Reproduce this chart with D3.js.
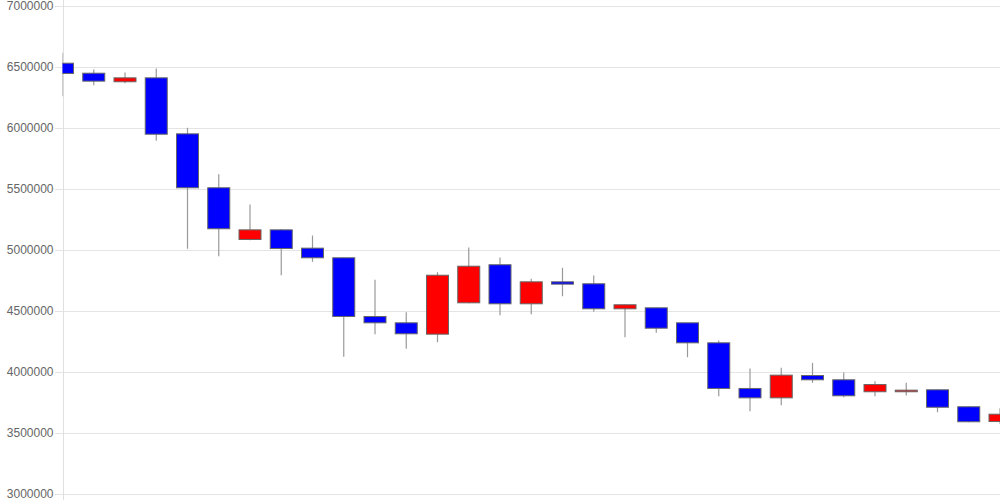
<!DOCTYPE html>
<html>
<head>
<meta charset="utf-8">
<script src="https://cdn.jsdelivr.net/npm/d3@7"></script>
<style>
  html, body { margin: 0; padding: 0; background: #fff; }
  svg { display: block; }
</style>
</head>
<body>
<svg id="chart" width="1000" height="500"></svg>
<script>
const categories = ["1","2","3","4","5","6","7","8","9","10","11","12","13","14","15","16","17","18","19","20","21","22","23","24","25","26","27","28","29","30","31"];
const openValues  = [6527000,6445000,6375000,6407000,5948000,5506000,5082000,5161000,5011000,4932000,4451000,4399000,4306000,4563000,4875000,4555000,4735000,4719000,4514000,4522000,4399000,4235000,3861000,3784000,3967000,3932000,3834000,3834000,3850000,3711000,3590000];
const highValues  = [6612000,6475000,6451000,6484000,5998000,5617000,5369000,5165000,5115000,4935000,4752000,4486000,4814000,5016000,4934000,4760000,4850000,4787000,4550000,4525000,4400000,4254000,4025000,4030000,4071000,3992000,3921000,3907000,3852000,3713000,3699000];
const lowValues   = [6257000,6347000,6363000,5891000,5006000,4945000,5076000,4789000,4899000,4120000,4306000,4186000,4240000,4560000,4461000,4470000,4617000,4489000,4281000,4317000,4117000,3798000,3675000,3724000,3907000,3789000,3798000,3803000,3666000,3585000,3571000];
const closeValues = [6443000,6380000,6407000,5945000,5506000,5170000,5161000,5008000,4932000,4451000,4399000,4309000,4789000,4863000,4555000,4735000,4716000,4514000,4547000,4355000,4235000,3861000,3784000,3970000,3932000,3801000,3893000,3847000,3707000,3588000,3650000];
const yTicks = [3000000,3500000,4000000,4500000,5000000,5500000,6000000,6500000,7000000];

(function () {
const W = 1000, H = 500;
const pLeft = 63.5, pRight = 1000, pTop = 5.5, pBottom = 493.5;
const svg = d3.select("#chart");

const data = categories.map((c, i) => ({
  c, o: openValues[i], h: highValues[i], l: lowValues[i], cl: closeValues[i]
}));

const x = d3.scalePoint().domain(categories).range([62.5, 1000]);
const y = d3.scaleLinear().domain([3000000, 7000000]).range([pBottom, pTop]);

const yAxis = d3.axisLeft(y).tickValues(yTicks).tickSize(-(pRight - pLeft)).tickSizeOuter(0).tickPadding(10).tickFormat(d3.format("d"));
const gAxis = svg.append("g").attr("transform", `translate(${pLeft},0)`).call(yAxis);
gAxis.select(".domain").remove();
gAxis.selectAll(".tick line").attr("stroke", "#e4e4e4").attr("x1", -9).attr("shape-rendering", "crispEdges");
gAxis.selectAll(".tick text")
  .attr("fill", "#666")
  .attr("font-family", "'Liberation Sans', Arial, Helvetica, sans-serif")
  .attr("font-size", "12px")
  .attr("x", -10);

svg.append("line")
  .attr("x1", pLeft).attr("x2", pLeft).attr("y1", 0).attr("y2", H)
  .attr("stroke", "#e0e0e0").attr("shape-rendering", "crispEdges");

svg.append("clipPath").attr("id", "plotclip")
  .append("rect").attr("x", pLeft - 1).attr("y", 0).attr("width", pRight - pLeft + 2).attr("height", H);

const plot = svg.append("g").attr("clip-path", "url(#plotclip)");
const bw = 22;

plot.selectAll("line.wick").data(data).enter().append("line")
  .attr("class", "wick")
  .attr("x1", d => x(d.c))
  .attr("x2", d => x(d.c))
  .attr("y1", d => y(d.h))
  .attr("y2", d => y(d.l))
  .attr("stroke", "#999")
  .attr("stroke-width", 1.2);

plot.selectAll("rect.body").data(data).enter().append("rect")
  .attr("class", "body")
  .attr("x", d => x(d.c) - bw / 2)
  .attr("width", bw)
  .attr("y", d => y(Math.max(d.o, d.cl)))
  .attr("height", d => Math.max(1, Math.abs(y(d.o) - y(d.cl))))
  .attr("fill", d => d.cl >= d.o ? "#ff0000" : "#0000ff")
  .attr("stroke", "#666")
  .attr("stroke-width", 1);
})();
</script>
</body>
</html>
